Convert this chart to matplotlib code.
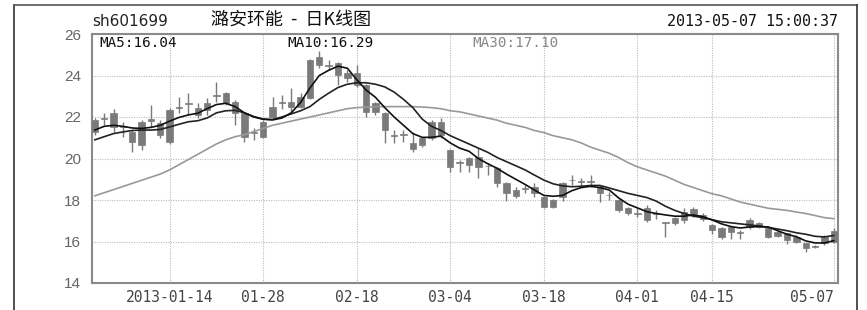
import matplotlib
matplotlib.use('Agg')
import matplotlib.pyplot as plt
from matplotlib.lines import Line2D

# daily candles, 2012-12-28 .. 2013-05-07 (80 trading days)
opens = [21.3, 21.9, 22.17, 21.55, 21.29, 20.65, 21.8, 21.7, 20.81, 22.45,
         22.62, 22.42, 22.34, 23.0, 23.14, 22.74, 22.18, 21.25, 21.05, 22.02,
         22.68, 22.74, 22.5, 22.9, 24.9, 24.48, 24.59, 24.1, 24.1, 23.54,
         22.26, 22.18, 21.1, 21.15, 20.73, 20.65, 20.97, 21.13, 20.41, 19.78,
         19.69, 20.09, 19.62, 19.53, 18.8, 18.2, 18.54, 18.64, 18.16, 17.68,
         18.16, 18.94, 18.9, 18.86, 18.64, 18.26, 18.0, 17.6, 17.38, 17.6,
         17.34, 16.92, 16.87, 17.04, 17.32, 17.28, 16.8, 16.63, 16.47, 16.46,
         16.71, 16.87, 16.63, 16.47, 16.39, 16.23, 15.91, 15.72, 15.91, 15.99]
highs = [21.95, 22.17, 22.4, 21.77, 21.35, 21.85, 22.58, 21.85, 22.42, 22.98,
         23.14, 22.66, 22.9, 23.7, 23.2, 22.8, 22.2, 21.45, 21.85, 22.98,
         23.05, 23.38, 23.14, 24.8, 25.2, 24.75, 24.67, 24.27, 24.5, 23.6,
         22.74, 22.26, 21.37, 21.37, 21.29, 21.05, 21.85, 21.94, 20.45, 19.93,
         20.09, 20.49, 19.77, 19.6, 18.85, 18.64, 18.72, 18.8, 18.2, 18.05,
         18.85, 19.2, 19.05, 19.2, 18.7, 18.4, 18.05, 17.65, 17.6, 17.76,
         17.5, 16.95, 17.2, 17.6, 17.65, 17.35, 16.85, 16.7, 16.72, 16.56,
         17.12, 16.95, 16.68, 16.55, 16.42, 16.3, 15.95, 15.85, 16.3, 16.64]
lows = [21.15, 21.6, 21.29, 21.05, 20.33, 20.41, 21.53, 21.0, 20.7, 22.18,
        22.1, 21.94, 22.1, 22.74, 22.6, 21.6, 20.8, 20.9, 21.0, 21.94,
        22.4, 22.26, 22.42, 22.85, 24.35, 24.27, 23.54, 23.7, 23.46, 22.02,
        22.1, 20.73, 20.73, 20.81, 20.33, 20.57, 20.9, 20.97, 19.37, 19.37,
        19.37, 19.04, 19.2, 18.64, 17.95, 18.08, 18.32, 18.16, 17.6, 17.6,
        17.95, 18.72, 18.64, 18.64, 17.92, 18.0, 17.4, 17.3, 17.2, 16.96,
        17.1, 16.23, 16.8, 16.9, 17.2, 17.0, 16.36, 16.1, 16.1, 16.1,
        16.6, 16.65, 16.15, 16.2, 15.9, 15.95, 15.51, 15.67, 15.85, 15.91]
closes = [21.85, 21.95, 21.53, 21.5, 20.81, 21.77, 21.88, 21.13, 22.34, 22.5,
          22.66, 22.1, 22.66, 23.06, 22.66, 22.18, 21.05, 21.29, 21.77, 22.5,
          22.72, 22.5, 22.98, 24.75, 24.5, 24.52, 24.02, 23.86, 23.54, 22.26,
          22.66, 21.37, 21.15, 21.12, 20.44, 20.97, 21.77, 21.77, 19.6, 19.82,
          20.0, 19.6, 19.66, 18.8, 18.32, 18.48, 18.58, 18.32, 17.68, 18.0,
          18.8, 18.98, 18.86, 18.9, 18.32, 18.22, 17.52, 17.36, 17.34, 17.04,
          17.38, 16.9, 17.12, 17.44, 17.55, 17.07, 16.55, 16.23, 16.68, 16.42,
          17.04, 16.71, 16.23, 16.27, 16.07, 15.99, 15.67, 15.76, 16.23, 16.5]

ma5 = [21.37, 21.55, 21.6, 21.55, 21.47, 21.45, 21.5, 21.6, 21.8, 21.98,
       22.1, 22.18, 22.4, 22.6, 22.66, 22.5, 22.2, 22.0, 21.89, 21.86,
       21.95, 22.2, 22.7, 23.4, 24.0, 24.25, 24.45, 24.35, 23.8, 23.3,
       22.95, 22.45, 22.0, 21.6, 21.2, 21.02, 21.02, 21.08, 20.75, 20.5,
       20.35, 20.0, 19.75, 19.53, 19.25, 19.0, 18.75, 18.48, 18.22, 18.18,
       18.22, 18.45, 18.6, 18.66, 18.6, 18.48, 18.1, 17.8, 17.62, 17.44,
       17.35, 17.28, 17.22, 17.22, 17.28, 17.2, 17.04, 16.85, 16.72, 16.65,
       16.7, 16.72, 16.7, 16.52, 16.35, 16.23, 16.03, 15.93, 15.93, 16.04]
ma10 = [20.9, 21.05, 21.2, 21.28, 21.35, 21.37, 21.37, 21.4, 21.52, 21.65,
        21.77, 21.82, 21.95, 22.2, 22.3, 22.32, 22.2, 22.02, 21.9, 21.88,
        22.0, 22.15, 22.3, 22.5, 22.85, 23.15, 23.42, 23.58, 23.65, 23.65,
        23.58, 23.45, 23.2, 22.85, 22.45, 21.9, 21.55, 21.35, 21.1, 20.9,
        20.7, 20.5, 20.3, 20.05, 19.85, 19.65, 19.45, 19.2, 18.96, 18.78,
        18.68, 18.64, 18.66, 18.7, 18.7, 18.58, 18.45, 18.32, 18.22, 18.12,
        17.95, 17.7, 17.5, 17.35, 17.22, 17.15, 17.05, 16.95, 16.9, 16.85,
        16.8, 16.75, 16.68, 16.6, 16.52, 16.42, 16.35, 16.25, 16.22, 16.29]
ma30 = [18.2, 18.35, 18.5, 18.65, 18.8, 18.95, 19.1, 19.25, 19.45, 19.7,
        19.95, 20.2, 20.45, 20.7, 20.9, 21.05, 21.15, 21.3, 21.45, 21.6,
        21.7, 21.8, 21.9, 22.0, 22.1, 22.2, 22.3, 22.4, 22.45, 22.48,
        22.5, 22.5, 22.5, 22.5, 22.5, 22.48, 22.45, 22.4, 22.3, 22.25,
        22.15, 22.05, 21.95, 21.85, 21.7, 21.6, 21.5, 21.35, 21.25, 21.1,
        21.0, 20.9, 20.75, 20.55, 20.4, 20.25, 20.05, 19.8, 19.6, 19.45,
        19.3, 19.15, 18.95, 18.75, 18.6, 18.45, 18.3, 18.2, 18.05, 17.9,
        17.8, 17.7, 17.6, 17.55, 17.5, 17.42, 17.35, 17.25, 17.15, 17.1]

tick_idx = [8, 18, 28, 38, 48, 58, 66, 79]
tick_labels = ['2013-01-14', '01-28', '02-18', '03-04', '03-18', '04-01', '04-15', '05-07']
y_ticks = [14, 16, 18, 20, 22, 24, 26]

W, H = 867, 310
fig = plt.figure(figsize=(W / 100, H / 100), dpi=100)
fig.patch.set_facecolor('white')
ax = fig.add_axes([92 / W, 1 - 283 / H, (838 - 92) / W, (283 - 34) / H])

# outer frame
fig.add_artist(Line2D([14 / W, 14 / W], [0, 1 - 5 / H], color='#333333', lw=1.2))
fig.add_artist(Line2D([14 / W, 857 / W], [1 - 5 / H, 1 - 5 / H], color='#555555', lw=1.2))
fig.add_artist(Line2D([857 / W, 857 / W], [0, 1 - 5 / H], color='#333333', lw=1.2))

x = list(range(len(closes)))
candle_col = '#7a7a7a'
ax.vlines(x, lows, highs, color=candle_col, lw=1.0, zorder=3)
bodies = [max(abs(c - o), 0.04) for o, c in zip(opens, closes)]
bottoms = [min(o, c) for o, c in zip(opens, closes)]
ax.bar(x, bodies, bottom=bottoms, width=0.68, color=candle_col,
       edgecolor=candle_col, lw=0.5, zorder=3)

ax.plot(x, ma30, color='#999999', lw=1.2, zorder=4)
ax.plot(x, ma10, color='#222222', lw=1.2, zorder=5)
ax.plot(x, ma5, color='#111111', lw=1.2, zorder=5)

ax.set_xlim(-0.3, 79.45)
ax.set_ylim(14, 26)
ax.set_yticks(y_ticks)
ax.set_yticklabels([str(v) for v in y_ticks], fontsize=11, color='#666666',
                   family='Liberation Sans')
ax.set_xticks(tick_idx)
ax.set_xticklabels(tick_labels, fontsize=10.5, color='#444444', family='DejaVu Sans Mono')
ax.get_xticklabels()[-1].set_horizontalalignment('right')
ax.tick_params(length=0, pad=5)
ax.tick_params(axis='y', pad=8)
ax.grid(True, color='#bbbbbb', ls=(0, (1, 1.2)), lw=0.8)
ax.set_axisbelow(True)
for s in ax.spines.values():
    s.set_color('#8a8a8a')
    s.set_linewidth(1.5)

# header texts
fig.text(92 / W, 1 - 21 / H, 'sh601699', fontsize=11, color='#222222',
         family='DejaVu Sans', va='center', ha='left')
fig.text(291 / W, 1 - 20 / H, '潞安环能  -  日K线图', fontsize=13, color='#111111',
         family=['Noto Sans CJK SC', 'DejaVu Sans'], va='center', ha='center')
fig.text(838 / W, 1 - 21 / H, '2013-05-07 15:00:37', fontsize=10.8, color='#111111',
         family='DejaVu Sans Mono', va='center', ha='right')

ax.text(0.01, 0.99, 'MA5:%.2f' % ma5[-1], transform=ax.transAxes, fontsize=10.3,
        color='#111111', family='DejaVu Sans Mono', va='top', ha='left')
ax.text(0.262, 0.99, 'MA10:%.2f' % ma10[-1], transform=ax.transAxes, fontsize=10.3,
        color='#111111', family='DejaVu Sans Mono', va='top', ha='left')
ax.text(0.51, 0.99, 'MA30:%.2f' % ma30[-1], transform=ax.transAxes, fontsize=10.3,
        color='#888888', family='DejaVu Sans Mono', va='top', ha='left')

fig.savefig('out.png', dpi=100)
